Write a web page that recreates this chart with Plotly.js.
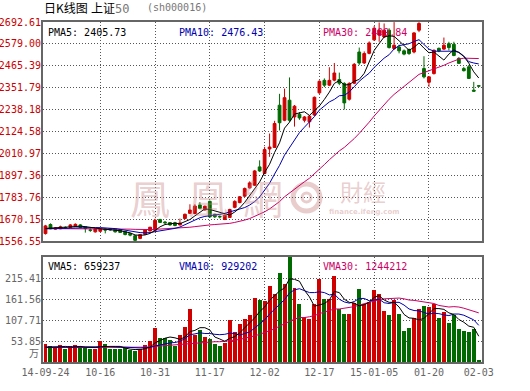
<!DOCTYPE html>
<html><head><meta charset="utf-8">
<script src="https://cdn.plot.ly/plotly-3.0.1.min.js"></script>
<style>html,body{margin:0;padding:0;background:#fff}</style>
</head><body><div id="chart" style="width:530px;height:391px"></div>
<script>
// ---- data ----
const labelIdx  = [0, 11, 22, 33, 44, 55, 66, 77, 87];
const labelText = ['14-09-24','10-16','10-31','11-17','12-02','12-17','15-01-05','01-20','02-03'];
const gridIdx   = [11, 22, 33, 44, 55, 66, 77];

const priceTicks = [1556.55,1670.15,1783.76,1897.36,2010.97,2124.58,2238.18,2351.79,2465.39,2579.00,2692.61];
const volTicks   = [53.85,107.71,161.56,215.41];

const open = [1595,1642,1618,1620,1627,1627,1632,1640,1630,1614,
 1604,1607,1619,1621,1619,1616,1606,1596,1584,1570,
 1591,1609,1612,1668,1655,1652,1651,1640,1673,1700,
 1699,1743,1718,1762,1695,1684,1668,1679,1731,1756,
 1789,1832,1846,1941,1907,2034,2042,2261,2183,2287,
 2200,2214,2183,2175,2210,2325,2390,2365,2391,2394,
 2374,2292,2375,2537,2480,2530,2600,2625,2615,2650,
 2555,2563,2543,2550,2537,2650,2451,2380,2425,2556,
 2552,2580,2577,2504,2451,2460,2339,2362];
const high = [1640,1648,1627,1636,1632,1644,1648,1644,1632,1622,
 1622,1624,1622,1624,1621,1618,1608,1598,1586,1593,
 1617,1630,1672,1672,1660,1655,1656,1673,1699,1747,
 1747,1758,1740,1766,1698,1690,1694,1724,1768,1790,
 1834,1866,1925,1975,2045,2114,2180,2320,2347,2405,
 2262,2225,2205,2210,2306,2390,2400,2458,2480,2430,
 2380,2380,2480,2560,2540,2592,2672,2690,2685,2660,
 2692,2575,2550,2555,2640,2692,2515,2410,2550,2560,
 2612,2590,2590,2510,2460,2470,2382,2363];
const low = [1590,1618,1615,1618,1620,1625,1630,1624,1600,1604,
 1600,1603,1596,1610,1600,1598,1586,1581,1557,1566,
 1588,1606,1610,1650,1645,1636,1633,1637,1670,1696,
 1695,1722,1714,1678,1676,1674,1665,1676,1726,1752,
 1785,1828,1842,1915,1903,1993,2040,2130,2178,2175,
 2150,2185,2172,2145,2205,2320,2355,2360,2385,2365,
 2239,2285,2370,2470,2475,2525,2595,2590,2610,2555,
 2548,2530,2520,2522,2530,2640,2400,2356,2420,2536,
 2548,2545,2515,2475,2436,2398,2333,2358];
const close = [1635,1620,1624,1630,1626,1640,1643,1627,1621,1612,
 1619,1619,1613,1614,1604,1601,1590,1587,1560,1590,
 1614,1628,1664,1653,1651,1640,1637,1650,1695,1717,
 1738,1726,1737,1682,1682,1682,1690,1720,1762,1786,
 1829,1858,1920,1920,2031,2044,2166,2170,2300,2183,
 2256,2195,2200,2204,2302,2385,2365,2390,2428,2375,
 2273,2374,2473,2480,2529,2584,2660,2650,2650,2560,
 2572,2543,2526,2529,2636,2685,2408,2408,2546,2543,
 2572,2560,2519,2478,2440,2400,2334,2360];

const pma5 = [1622,1624,1624,1626,1627,1628,1633,1633,1631,1629,
 1624,1620,1617,1615,1614,1610,1604,1599,1588,1586,
 1588,1596,1611,1630,1642,1647,1649,1646,1655,1668,
 1687,1705,1723,1720,1713,1702,1695,1691,1707,1728,
 1757,1791,1831,1863,1912,1955,2016,2066,2142,2173,
 2215,2221,2227,2208,2231,2257,2291,2329,2374,2389,
 2366,2368,2385,2395,2426,2488,2545,2581,2615,2621,
 2618,2595,2570,2546,2561,2584,2557,2533,2537,2518,
 2495,2526,2548,2534,2514,2479,2434,2402];
const pma10 = [1620,1620,1621,1621,1622,1623,1624,1625,1626,1628,
 1626,1626,1625,1623,1621,1617,1612,1608,1602,1600,
 1599,1600,1605,1609,1614,1618,1622,1629,1642,1655,
 1667,1677,1684,1687,1690,1695,1700,1707,1714,1721,
 1730,1743,1761,1785,1820,1856,1904,1949,2002,2042,
 2085,2119,2147,2175,2202,2236,2256,2278,2291,2310,
 2312,2330,2357,2385,2407,2427,2457,2483,2505,2523,
 2553,2570,2575,2580,2591,2601,2576,2552,2541,2540,
 2540,2541,2541,2536,2516,2487,2480,2475];
const pma30 = [1621,1621,1621,1621,1621,1621,1621,1621,1621,1620,
 1620,1620,1620,1620,1619,1619,1618,1618,1617,1616,
 1616,1616,1617,1618,1619,1620,1621,1623,1625,1628,
 1631,1635,1638,1640,1642,1643,1645,1648,1653,1658,
 1665,1673,1684,1694,1708,1723,1742,1761,1786,1806,
 1827,1846,1864,1882,1904,1929,1953,1978,2002,2024,
 2042,2064,2088,2115,2143,2173,2205,2236,2266,2292,
 2317,2339,2360,2380,2400,2421,2430,2437,2446,2458,
 2468,2480,2491,2500,2505,2505,2504,2503];

// volume in 万
const vol = [47,40,36,43,33,40,43,40,36,33,
 33,53,47,33,33,33,36,31,28,33,
 43,54,87,61,61,57,42,68,90,135,
 68,81,64,60,47,42,50,107,77,97,
 109,120,163,158,156,194,174,228,199,269,
 191,148,115,109,150,212,161,162,220,137,
 124,123,152,186,150,155,184,175,130,120,
 158,123,79,86,114,137,143,140,150,114,
 127,100,121,84,80,76,84,4.4];
const vma5 = [38,38,39,39,40,38,39,40,38,38,
 37,39,40,40,40,40,36,33,32,32,
 34,38,49,56,61,64,62,58,64,78,
 81,88,88,82,64,59,53,61,65,75,
 88,102,113,129,141,158,169,182,190,213,
 212,207,184,167,143,147,150,159,181,178,
 161,153,151,144,147,153,166,170,159,153,
 153,141,122,113,112,108,112,124,137,137,
 135,126,122,109,102,92,89,66];
const vma10 = [38,38,38,38,38,38,38,39,39,39,
 38,39,40,39,39,38,38,37,36,36,
 37,37,41,44,47,49,50,53,60,70,
 72,75,73,73,71,70,71,74,73,69,
 73,77,87,97,108,123,136,148,160,177,
 185,188,183,178,178,180,178,172,174,161,
 154,151,155,163,163,157,159,161,152,150,
 153,153,146,136,132,131,127,123,125,124,
 121,119,123,123,120,114,108,94];
const vma30 = [37,37,37,37,37,37,37,37,37,37,
 37,37,37,37,37,37,37,37,37,37,
 38,39,40,41,42,43,44,45,46,48,
 49,50,51,52,52,52,53,55,56,58,
 61,63,67,71,75,81,85,92,98,105,
 110,114,114,116,119,124,128,131,136,136,
 138,139,142,146,150,153,158,160,162,163,
 164,164,162,159,158,156,155,152,150,145,
 143,141,142,141,138,134,131,126];

// ---- styling ----
const RED = '#d00000', GREEN = '#006a00', BLUE = '#0000b0', MAG = '#cc0066';
const GRID = '#555', BORDER = '#666', WM = 'rgba(200,130,130,0.40)';
const idx = open.map((_, i) => i);
const volColors = close.map((c, i) => c >= open[i] ? RED : GREEN);

const L = 43, T = 22, PW = 439, PH = 340;
const px = x => (x - L) / PW;
const py = y => (T + PH - y) / PH;

const traces = [
  {type:'candlestick', x:idx, open, high, low, close, xaxis:'x', yaxis:'y',
   increasing:{line:{color:RED, width:1}, fillcolor:RED},
   decreasing:{line:{color:GREEN, width:1}, fillcolor:GREEN},
   whiskerwidth:0, hoverinfo:'skip'},
  {type:'scatter', mode:'lines', x:idx, y:pma30, line:{color:MAG, width:1}, xaxis:'x', yaxis:'y', hoverinfo:'skip'},
  {type:'scatter', mode:'lines', x:idx, y:pma10, line:{color:BLUE, width:1}, xaxis:'x', yaxis:'y', hoverinfo:'skip'},
  {type:'scatter', mode:'lines', x:idx, y:pma5, line:{color:'#000', width:1}, xaxis:'x', yaxis:'y', hoverinfo:'skip'},
  {type:'bar', x:idx, y:vol, width:0.8, marker:{color:volColors, line:{width:0}}, xaxis:'x2', yaxis:'y2', hoverinfo:'skip'},
  {type:'scatter', mode:'lines', x:idx, y:vma30, line:{color:MAG, width:1}, xaxis:'x2', yaxis:'y2', hoverinfo:'skip'},
  {type:'scatter', mode:'lines', x:idx, y:vma10, line:{color:BLUE, width:1}, xaxis:'x2', yaxis:'y2', hoverinfo:'skip'},
  {type:'scatter', mode:'lines', x:idx, y:vma5, line:{color:'#000', width:1}, xaxis:'x2', yaxis:'y2', hoverinfo:'skip'}
];

const axBase = {showline:true, mirror:true, linecolor:BORDER, linewidth:2, zeroline:false, ticks:'', ticklen:0,
  gridcolor:GRID, griddash:'1px,2px', gridwidth:1, fixedrange:true};
const xRange = [-0.5, 87.65];

const ann = (text, x, y, opts) => Object.assign({text, x, y, xref:'paper', yref:'paper',
  showarrow:false, xanchor:'left', yanchor:'middle', borderpad:0}, opts || {});
const mono = (size, color) => ({family:'DejaVu Sans Mono', size, color});

const annotations = [
  ann('日K线图', px(43), py(7.5), {font:{family:'Noto Sans CJK SC', size:12, color:'#000'}}),
  ann('上证<span style="color:#777;font-family:DejaVu Sans Mono">50</span>', px(90), py(7.5), {font:{family:'Noto Sans CJK SC', size:12, color:'#000'}}),
  ann('(sh000016)', px(146), py(7.5), {font:mono(10, '#777')}),
  ann('PMA5: 2405.73', px(47), py(32.5), {font:mono(10, '#000')}),
  ann('PMA10: 2476.43', px(178), py(32.5), {font:mono(10, BLUE)}),
  ann('PMA30: 2499.84', px(322), py(32.5), {font:mono(10, MAG)}),
  ann('VMA5: 659237', px(47), py(266), {font:mono(10, '#000')}),
  ann('VMA10: 929202', px(178), py(266), {font:mono(10, BLUE)}),
  ann('VMA30: 1244212', px(322), py(266), {font:mono(10, MAG)}),
  ann('万', 0, 25, {xref:'paper', yref:'y2', xanchor:'right', xshift:-3, font:{family:'Noto Sans CJK SC', size:10, color:'#666'}}),
  // watermark
  ann('鳳', px(150), py(197), {xanchor:'center', font:{family:'Noto Sans CJK TC', size:40, color:WM}}),
  ann('凰', px(208), py(197), {xanchor:'center', font:{family:'Noto Sans CJK TC', size:40, color:WM}}),
  ann('網', px(263), py(197), {xanchor:'center', font:{family:'Noto Sans CJK TC', size:40, color:WM}}),
  ann('財經', px(363), py(191), {xanchor:'center', font:{family:'Noto Sans CJK TC', size:23, color:WM}}),
  ann('<b>finance.ifeng.com</b>', px(364), py(212), {xanchor:'center', font:{family:'DejaVu Sans', size:7, color:WM}})
];

const layout = {
  width:530, height:391,
  margin:{l:L, r:530-L-PW, t:T, b:391-T-PH, pad:0},
  paper_bgcolor:'#fff', plot_bgcolor:'#fff',
  showlegend:false, boxgap:0.2, bargap:0,
  font:{family:'DejaVu Sans Mono', size:10, color:'#666'},
  xaxis:Object.assign({}, axBase, {domain:[0,1], anchor:'y', range:xRange, tickmode:'array',
    tickvals:gridIdx, showticklabels:false, showgrid:true, rangeslider:{visible:false}}),
  yaxis:Object.assign({}, axBase, {domain:[py(241),1], anchor:'x', range:[priceTicks[0], priceTicks[priceTicks.length-1]],
    tickmode:'array', tickvals:priceTicks, ticktext:priceTicks.map(v => v.toFixed(2)),
    tickfont:mono(10, '#cc0000'), showgrid:true, ticklabelstandoff:-2}),
  xaxis2:Object.assign({}, axBase, {domain:[0,1], anchor:'y2', range:xRange, tickmode:'array',
    tickvals:labelIdx, ticktext:labelText, showgrid:false, tickfont:mono(10, '#666'),
    minor:{tickmode:'array', tickvals:gridIdx, showgrid:true, gridcolor:GRID, griddash:'1px,2px', gridwidth:1, ticks:''}}),
  yaxis2:Object.assign({}, axBase, {domain:[0, py(257)], anchor:'x2', range:[0, 269.26],
    tickmode:'array', tickvals:volTicks, ticktext:volTicks.map(v => v.toFixed(2)),
    tickfont:mono(10, '#666'), showgrid:true, ticklabelstandoff:-2}),
  annotations,
  shapes:[
    {type:'circle', xref:'paper', yref:'paper', x0:px(293), x1:px(320), y0:py(211), y1:py(184),
     line:{color:WM, width:5}, fillcolor:'rgba(0,0,0,0)', layer:'below'},
    {type:'circle', xref:'paper', yref:'paper', x0:px(302), x1:px(311), y0:py(202), y1:py(193),
     line:{color:WM, width:3}, fillcolor:'rgba(0,0,0,0)', layer:'below'}
  ]
};

Plotly.newPlot('chart', traces, layout, {staticPlot:true, displayModeBar:false});
</script>
</body></html>
